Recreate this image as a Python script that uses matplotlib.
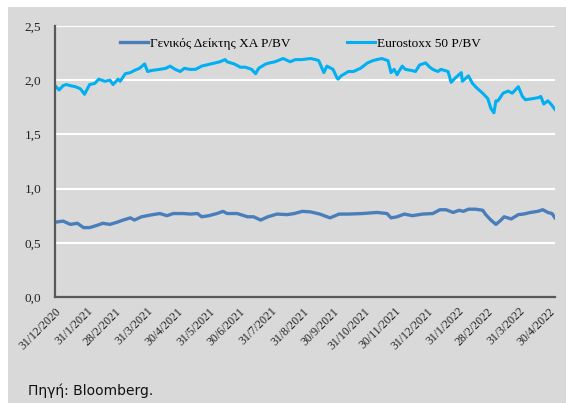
import numpy as np
import pandas as pd
import matplotlib
matplotlib.use("Agg")
import matplotlib.pyplot as plt
import matplotlib.dates as mdates
from matplotlib.patches import Rectangle

# Eurostoxx 50 P/BV
euro_dates = ["2020-12-31", "2021-01-04", "2021-01-08", "2021-01-11", "2021-01-15", "2021-01-20",
              "2021-01-25", "2021-01-29", "2021-02-03", "2021-02-08", "2021-02-12", "2021-02-18",
              "2021-02-23", "2021-02-26", "2021-03-03", "2021-03-05", "2021-03-10", "2021-03-15",
              "2021-03-19", "2021-03-24", "2021-03-29", "2021-04-01", "2021-04-05", "2021-04-13",
              "2021-04-19", "2021-04-23", "2021-04-28", "2021-05-03", "2021-05-07", "2021-05-12",
              "2021-05-18", "2021-05-24", "2021-06-02", "2021-06-11", "2021-06-16", "2021-06-18",
              "2021-06-25", "2021-07-01", "2021-07-06", "2021-07-12", "2021-07-16", "2021-07-19",
              "2021-07-26", "2021-07-30", "2021-08-04", "2021-08-12", "2021-08-19", "2021-08-24",
              "2021-08-30", "2021-09-08", "2021-09-13", "2021-09-16", "2021-09-21", "2021-09-24",
              "2021-09-30", "2021-10-04", "2021-10-05", "2021-10-08", "2021-10-15", "2021-10-20",
              "2021-10-27", "2021-11-03", "2021-11-08", "2021-11-12", "2021-11-17", "2021-11-23",
              "2021-11-26", "2021-11-29", "2021-12-02", "2021-12-03", "2021-12-07", "2021-12-10",
              "2021-12-16", "2021-12-20", "2021-12-24", "2021-12-30", "2022-01-03", "2022-01-06",
              "2022-01-11", "2022-01-14", "2022-01-21", "2022-01-24", "2022-01-28", "2022-02-03",
              "2022-02-04", "2022-02-10", "2022-02-14", "2022-02-18", "2022-02-24", "2022-03-01",
              "2022-03-04", "2022-03-07", "2022-03-09", "2022-03-11", "2022-03-16", "2022-03-21",
              "2022-03-25", "2022-03-31", "2022-04-04", "2022-04-07", "2022-04-14", "2022-04-20",
              "2022-04-22", "2022-04-25", "2022-04-29", "2022-05-02", "2022-05-06"]
euro_vals = [1.95, 1.91, 1.95, 1.96, 1.95, 1.94,
             1.92, 1.87, 1.96, 1.97, 2.01, 1.99,
             2.00, 1.96, 2.01, 1.99, 2.06, 2.07,
             2.09, 2.11, 2.15, 2.08, 2.09, 2.10,
             2.11, 2.13, 2.10, 2.08, 2.11, 2.10,
             2.10, 2.13, 2.15, 2.17, 2.19, 2.17,
             2.15, 2.12, 2.12, 2.10, 2.06, 2.11,
             2.15, 2.16, 2.17, 2.20, 2.17, 2.19,
             2.19, 2.20, 2.19, 2.18, 2.07, 2.13,
             2.10, 2.02, 2.01, 2.04, 2.08, 2.08,
             2.11, 2.16, 2.18, 2.19, 2.20, 2.18,
             2.07, 2.10, 2.05, 2.07, 2.13, 2.10,
             2.09, 2.08, 2.14, 2.16, 2.12, 2.10,
             2.08, 2.10, 2.08, 1.98, 2.02, 2.07,
             1.99, 2.04, 1.97, 1.93, 1.88, 1.83,
             1.74, 1.70, 1.81, 1.81, 1.88, 1.90,
             1.88, 1.94, 1.85, 1.82, 1.83, 1.84,
             1.85, 1.78, 1.81, 1.78, 1.73]

# Γενικός Δείκτης ΧΑ P/BV
gr_dates = ["2020-12-31", "2021-01-08", "2021-01-15", "2021-01-22", "2021-01-28", "2021-02-03",
            "2021-02-10", "2021-02-16", "2021-02-23", "2021-03-02", "2021-03-08", "2021-03-15",
            "2021-03-19", "2021-03-26", "2021-04-06", "2021-04-13", "2021-04-20", "2021-04-26",
            "2021-05-06", "2021-05-13", "2021-05-20", "2021-05-24", "2021-05-31", "2021-06-08",
            "2021-06-14", "2021-06-18", "2021-06-28", "2021-07-08", "2021-07-14", "2021-07-21",
            "2021-07-28", "2021-08-06", "2021-08-16", "2021-08-23", "2021-08-31", "2021-09-08",
            "2021-09-17", "2021-09-27", "2021-10-06", "2021-10-15", "2021-10-29", "2021-11-12",
            "2021-11-22", "2021-11-26", "2021-12-02", "2021-12-09", "2021-12-17", "2021-12-27",
            "2022-01-06", "2022-01-13", "2022-01-19", "2022-01-26", "2022-02-01", "2022-02-05",
            "2022-02-10", "2022-02-17", "2022-02-24", "2022-02-27", "2022-03-04", "2022-03-09",
            "2022-03-14", "2022-03-17", "2022-03-24", "2022-03-31", "2022-04-05", "2022-04-12",
            "2022-04-19", "2022-04-24", "2022-04-29", "2022-05-03", "2022-05-06"]
gr_vals = [0.69, 0.70, 0.67, 0.68, 0.64, 0.64,
           0.66, 0.68, 0.67, 0.69, 0.71, 0.73,
           0.71, 0.74, 0.76, 0.77, 0.75, 0.77,
           0.77, 0.765, 0.77, 0.74, 0.75, 0.77,
           0.79, 0.77, 0.77, 0.74, 0.74, 0.71,
           0.74, 0.765, 0.76, 0.77, 0.79, 0.785,
           0.765, 0.73, 0.765, 0.765, 0.77, 0.78,
           0.77, 0.73, 0.74, 0.765, 0.75, 0.765,
           0.77, 0.805, 0.805, 0.78, 0.80, 0.79,
           0.81, 0.81, 0.80, 0.76, 0.71, 0.67,
           0.71, 0.74, 0.72, 0.76, 0.765, 0.78,
           0.79, 0.805, 0.78, 0.77, 0.73]

tick_dates = ["2020-12-31", "2021-01-31", "2021-02-28", "2021-03-31", "2021-04-30", "2021-05-31",
              "2021-06-30", "2021-07-31", "2021-08-31", "2021-09-30", "2021-10-31", "2021-11-30",
              "2021-12-31", "2022-01-31", "2022-02-28", "2022-03-31", "2022-04-30"]
tick_labels = ["31/12/2020", "31/1/2021", "28/2/2021", "31/3/2021", "30/4/2021", "31/5/2021",
               "30/6/2021", "31/7/2021", "31/8/2021", "30/9/2021", "31/10/2021", "30/11/2021",
               "31/12/2021", "31/1/2022", "28/2/2022", "31/3/2022", "30/4/2022"]
y_ticks = [0.0, 0.5, 1.0, 1.5, 2.0, 2.5]

bg = '#d9d9d9'
serif = 'Liberation Serif'

fig = plt.figure(figsize=(5.66, 4.03), dpi=100)
fig.patch.set_facecolor('white')
fig.patches.append(Rectangle((8/566, 0), 1, 1 - 7/403, transform=fig.transFigure,
                             facecolor=bg, edgecolor='none', zorder=-1))

ax = fig.add_axes([55/566, 1 - 297/403, 500/566, 271/403])
ax.set_facecolor(bg)

ax.plot(pd.to_datetime(gr_dates), gr_vals, color='#4a7ebb', lw=2.4,
        label='Γενικός Δείκτης ΧΑ P/BV')
ax.plot(pd.to_datetime(euro_dates), euro_vals, color='#00b0f0', lw=2.2,
        label='Eurostoxx 50 P/BV')

ax.set_xlim(pd.Timestamp("2020-12-31"), pd.Timestamp("2022-05-06"))
ax.set_ylim(0, 2.5)
ax.set_yticks(y_ticks)
ax.set_yticklabels([f"{v:.1f}".replace('.', ',') for v in y_ticks],
                   fontfamily=serif, fontsize=9.5, color='#222222')
ax.set_xticks(pd.to_datetime(tick_dates))
ax.set_xticklabels(tick_labels, rotation=45, ha='right', rotation_mode='anchor',
                   fontfamily=serif, fontsize=8.5, color='#222222')
ax.tick_params(axis='both', length=0)
ax.tick_params(axis='y', pad=10)
ax.tick_params(axis='x', pad=6)

ax.grid(axis='y', color='white', lw=1.5)
ax.set_axisbelow(True)
for s in ['top', 'right']:
    ax.spines[s].set_visible(False)
for s in ['left', 'bottom']:
    ax.spines[s].set_color('#595959')
    ax.spines[s].set_linewidth(1.6)

ax.legend(loc='center left', bbox_to_anchor=(0.12, 0.934), ncol=2, frameon=False,
          prop={'family': serif, 'size': 9.5}, handlelength=2.1, handletextpad=0.15,
          columnspacing=4.3, borderaxespad=0)

fig.text(28/566, 1 - 391/403, 'Πηγή: Bloomberg.', fontsize=10, va='center',
         family='DejaVu Sans', color='#111111')

fig.savefig('out.png', dpi=100, facecolor=fig.get_facecolor())
